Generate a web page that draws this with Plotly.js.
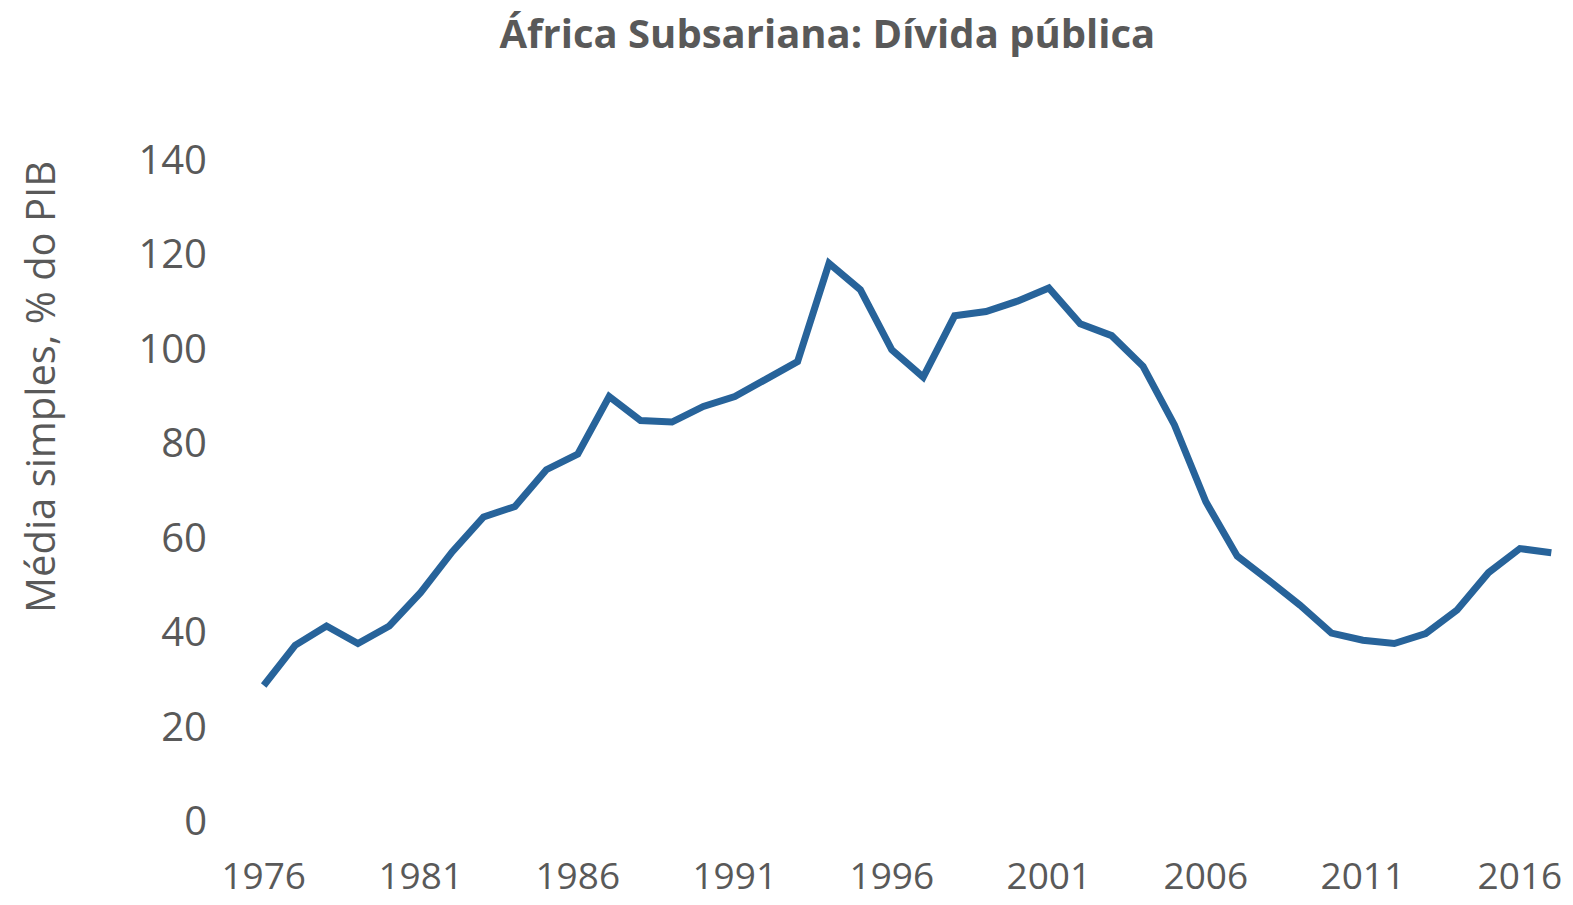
<!DOCTYPE html>
<html>
<head>
<meta charset="utf-8">
<script src="https://cdn.plot.ly/plotly-3.0.1.min.js"></script>
<style>html,body{margin:0;padding:0;background:#fff;}#chart{width:1573px;height:905px;}</style>
</head>
<body>
<div id="chart"></div>
<script>
const years = [1976,1977,1978,1979,1980,1981,1982,1983,1984,1985,1986,1987,1988,1989,1990,1991,1992,1993,1994,1995,1996,1997,1998,1999,2000,2001,2002,2003,2004,2005,2006,2007,2008,2009,2010,2011,2012,2013,2014,2015,2016,2017];
const debt = [28.7,37.2,41.3,37.6,41.3,48.4,57.0,64.4,66.6,74.4,77.7,89.9,84.8,84.5,87.8,89.9,93.6,97.3,118.1,112.5,99.8,94.0,107.0,107.9,110.1,112.9,105.3,102.8,96.3,83.9,67.6,56.1,51.0,45.7,39.8,38.3,37.6,39.7,44.7,52.6,57.7,56.8];
const xTicks = [1976,1981,1986,1991,1996,2001,2006,2011,2016];
const yTicks = [0,20,40,60,80,100,120,140];
const titleText = 'África Subsariana: Dívida pública';
const yTitle = 'Média simples, % do PIB';

const grey = '#595959';
const fontFam = '"Open Sans", "Noto Sans", sans-serif';

const data = [{
  x: years, y: debt, type: 'scatter', mode: 'lines',
  line: {color: '#27639A', width: 7, shape: 'linear'},
  hoverinfo: 'x+y'
}];

const layout = {
  width: 1573, height: 905,
  margin: {l: 248, r: 6, t: 160, b: 84},
  paper_bgcolor: '#ffffff', plot_bgcolor: '#ffffff',
  showlegend: false,
  title: {text: '<b>' + titleText + '</b>', x: 0.526, xanchor: 'center', y: 0.962, yanchor: 'middle',
          font: {family: fontFam, size: 40, color: grey}},
  xaxis: {
    range: [1975.5, 2017.5], tickmode: 'array', tickvals: xTicks, ticktext: xTicks.map(String),
    showgrid: false, zeroline: false, showline: false, ticks: '',
    tickfont: {family: fontFam, size: 37, color: grey}, ticklabelstandoff: 30
  },
  yaxis: {
    range: [0, 140], tickmode: 'array', tickvals: yTicks, ticktext: yTicks.map(String),
    showgrid: false, zeroline: false, showline: false, ticks: '',
    tickfont: {family: fontFam, size: 40, color: grey}, ticklabelstandoff: 40
  },
  annotations: [{
    text: yTitle, xref: 'paper', yref: 'paper', x: -0.158, y: 0.656,
    xanchor: 'center', yanchor: 'middle', textangle: -90, showarrow: false,
    font: {family: fontFam, size: 40, color: grey}
  }]
};

Plotly.newPlot('chart', data, layout, {displayModeBar: false, staticPlot: true});
</script>
</body>
</html>
